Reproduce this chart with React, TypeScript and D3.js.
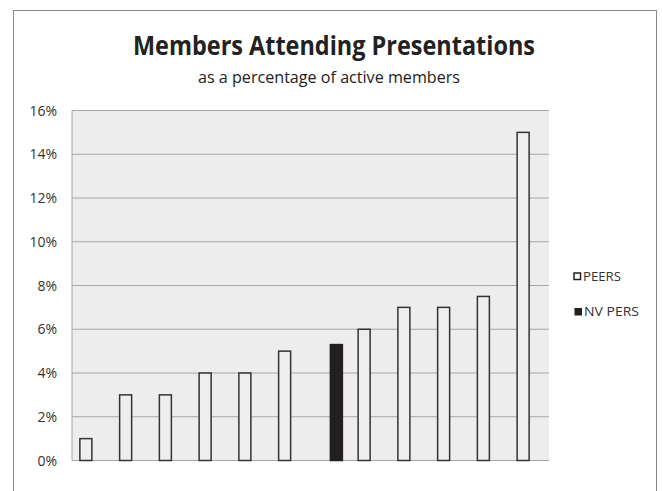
import React from "react";
import * as d3 from "d3";

const categories = ["1", "2", "3", "4", "5", "6", "7", "8", "9", "10", "11", "12"];
const seriesNames = ["PEERS", "NV PERS"];
const peersValues: (number | null)[] = [1, 3, 3, 4, 4, 5, null, 6, 7, 7, 7.5, 15];
const nvPersValues: (number | null)[] = [null, null, null, null, null, null, 5.3, null, null, null, null, null];
const yTicks = [0, 2, 4, 6, 8, 10, 12, 14, 16];
const titleText = "Members Attending Presentations";
const subtitleText = "as a percentage of active members";

const W = 662;
const H = 491;
const plot = { left: 72, right: 549, top: 110.5, bottom: 460.5 };

export default function App() {
  const x0 = d3.scaleBand<string>().domain(categories).range([plot.left, plot.right]).padding(0);
  const bw = x0.bandwidth();
  const barW = 12;
  const pOuter = (bw / barW - 2) / 2;
  const x1 = d3.scaleBand<string>().domain(seriesNames).range([0, bw]).paddingInner(0).paddingOuter(pOuter);
  const y = d3.scaleLinear().domain([0, 16]).range([plot.bottom, plot.top]);

  const seriesData = [
    { name: "PEERS", values: peersValues, fill: "#eeeeee" },
    { name: "NV PERS", values: nvPersValues, fill: "#231f20" },
  ];

  const font = "'Open Sans', sans-serif";

  return (
    <svg width={W} height={H} style={{ position: "absolute", left: 0, top: 0, background: "#fff" }}>
      <rect x={13.5} y={10.5} width={643} height={500} fill="#ffffff" stroke="#8a8a8a" strokeWidth={1} />
      <text x={334} y={55} textAnchor="middle" fontFamily={font} fontWeight="bold" fontSize={27} fill="#222"
        textLength={402} lengthAdjust="spacingAndGlyphs">
        {titleText}
      </text>
      <text x={329} y={83} textAnchor="middle" fontFamily={font} fontSize={16} fill="#222"
        textLength={262} lengthAdjust="spacingAndGlyphs">
        {subtitleText}
      </text>
      <rect x={plot.left} y={plot.top} width={plot.right - plot.left} height={plot.bottom - plot.top} fill="#ededed" />
      {yTicks.map((t) => (
        <line key={"g" + t} x1={plot.left} x2={plot.right} y1={y(t)} y2={y(t)} stroke="#a6a6a6" strokeWidth={1} />
      ))}
      <line x1={plot.left} x2={plot.left} y1={plot.top} y2={plot.bottom} stroke="#a6a6a6" strokeWidth={1} />
      {yTicks.map((t) => (
        <text key={"t" + t} x={57} y={y(t) + 5} textAnchor="end" fontFamily={font} fontSize={14} fill="#333">
          {t + "%"}
        </text>
      ))}
      {seriesData.map((s) =>
        s.values.map((v, i) =>
          v == null ? null : (
            <rect
              key={s.name + i}
              x={(x0(categories[i]) as number) + (x1(s.name) as number)}
              y={y(v)}
              width={x1.bandwidth()}
              height={y(0) - y(v)}
              fill={s.fill}
              stroke={s.name === "PEERS" ? "#333" : "#231f20"}
              strokeWidth={1.5}
            />
          )
        )
      )}
      <g>
        <rect x={574} y={273} width={6.5} height={6.5} fill="#fff" stroke="#222" strokeWidth={1.5} />
        <text x={583} y={281} fontFamily={font} fontSize={13} fill="#333" textLength={38} lengthAdjust="spacingAndGlyphs">{seriesNames[0]}</text>
        <rect x={575} y={308.5} width={6.5} height={6.5} fill="#231f20" stroke="#231f20" strokeWidth={1} />
        <text x={584} y={316} fontFamily={font} fontSize={13} fill="#333" textLength={55} lengthAdjust="spacingAndGlyphs">{seriesNames[1]}</text>
      </g>
    </svg>
  );
}
